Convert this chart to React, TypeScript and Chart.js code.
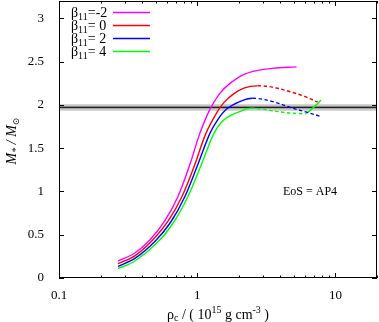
import React, { useEffect, useRef } from "react";
import { Chart, registerables } from "chart.js";

Chart.register(...registerables);

// ---- data (rho_c in 1e15 g/cm^3, M in solar masses) ----
const rhoA = [0.267, 0.354, 0.454, 0.582, 0.723, 0.883, 1.042, 1.231, 1.453, 1.717, 2.13, 2.69, 3.51, 5.23];
const massA = [0.197, 0.289, 0.439, 0.659, 0.936, 1.306, 1.665, 1.942, 2.13, 2.245, 2.345, 2.395, 2.422, 2.439];

const rhoB = [0.267, 0.354, 0.477, 0.617, 0.773, 0.959, 1.152, 1.383, 1.553, 1.834, 2.203, 2.734, 3.51, 4.655, 5.973, 7.45];
const massB = [0.165, 0.256, 0.439, 0.659, 0.936, 1.306, 1.665, 1.908, 2.023, 2.127, 2.197, 2.22, 2.205, 2.154, 2.098, 2.031];

const rhoC = [0.267, 0.354, 0.498, 0.644, 0.812, 1.008, 1.231, 1.406, 1.625, 2.03, 2.516, 3.51, 4.892, 6.277, 7.885];
const massC = [0.135, 0.226, 0.428, 0.647, 0.936, 1.306, 1.665, 1.827, 1.95, 2.038, 2.077, 2.038, 1.962, 1.913, 1.865];

const rhoD = [0.267, 0.354, 0.519, 0.677, 0.854, 1.069, 1.316, 1.503, 1.717, 2.03, 2.462, 3.51, 4.655, 5.5, 6.07, 6.86, 7.41, 7.885];
const massD = [0.108, 0.196, 0.416, 0.647, 0.936, 1.306, 1.665, 1.803, 1.873, 1.923, 1.962, 1.931, 1.906, 1.901, 1.898, 1.962, 2.012, 2.058];

const betaLabels = ["-2", " 0", " 2", " 4"];
const seriesColors = ["#ff00ff", "#ff0000", "#0000ff", "#00ff00"];

const xTickValues = [0.1, 1, 10];
const xTickLabels = ["0.1", "1", "10"];
const xMinorValues = [0.2, 0.3, 0.4, 0.5, 0.6, 0.7, 0.8, 0.9, 2, 3, 4, 5, 6, 7, 8, 9, 20];
const yTickValues = [0, 0.5, 1, 1.5, 2, 2.5, 3];
const yTickLabels = ["0", "0.5", "1", "1.5", "2", "2.5", "3"];

const bandLow = 1.93;
const bandHigh = 2.01;
const bandInnerLow = 1.95;
const bandInnerHigh = 1.99;
const bandMid = 1.97;

const eosText = "EoS = AP4";

const SERIF = "'Liberation Serif', 'DejaVu Serif', serif";

function drawPieces(ctx: CanvasRenderingContext2D, pieces: { t: string; size: number; dy: number; italic?: boolean }[], x: number, y: number, align: "left" | "center") {
  let total = 0;
  for (const p of pieces) {
    ctx.font = `${p.italic ? "italic " : ""}${p.size}px ${SERIF}`;
    total += ctx.measureText(p.t).width;
  }
  let cx = align === "center" ? x - total / 2 : x;
  ctx.textAlign = "left";
  ctx.textBaseline = "alphabetic";
  for (const p of pieces) {
    ctx.font = `${p.italic ? "italic " : ""}${p.size}px ${SERIF}`;
    ctx.fillText(p.t, cx, y + p.dy);
    cx += ctx.measureText(p.t).width;
  }
}

const decoPlugin = {
  id: "deco",
  beforeDatasetsDraw(chart: any) {
    const { ctx, chartArea, scales } = chart;
    const { left, right, top, bottom } = chartArea;
    const y = scales.y;
    ctx.save();
    ctx.beginPath();
    ctx.rect(left, top, right - left, bottom - top);
    ctx.clip();
    const yH = y.getPixelForValue(bandHigh);
    const yL = y.getPixelForValue(bandLow);
    ctx.fillStyle = "#d4d4d4";
    ctx.fillRect(left, yH, right - left, yL - yH);
    const yiH = y.getPixelForValue(bandInnerHigh);
    const yiL = y.getPixelForValue(bandInnerLow);
    ctx.fillStyle = "#a8a8a8";
    ctx.fillRect(left, yiH, right - left, yiL - yiH);
    const ym = y.getPixelForValue(bandMid);
    ctx.strokeStyle = "#222";
    ctx.lineWidth = 1.2;
    ctx.beginPath();
    ctx.moveTo(left, ym);
    ctx.lineTo(right, ym);
    ctx.stroke();
    ctx.restore();
  },
  afterDatasetsDraw(chart: any) {
    const { ctx, chartArea, scales } = chart;
    const { left, right, top, bottom } = chartArea;
    const x = scales.x;
    const y = scales.y;
    ctx.save();
    ctx.strokeStyle = "#000";
    ctx.lineWidth = 1;
    ctx.beginPath();
    for (const v of yTickValues) {
      const py = Math.round(y.getPixelForValue(v)) + 0.5;
      ctx.moveTo(left, py);
      ctx.lineTo(left + 5, py);
      ctx.moveTo(right, py);
      ctx.lineTo(right - 5, py);
    }
    for (const v of xTickValues) {
      const px = Math.round(x.getPixelForValue(v)) + 0.5;
      ctx.moveTo(px, bottom);
      ctx.lineTo(px, bottom - 5);
      ctx.moveTo(px, top);
      ctx.lineTo(px, top + 5);
    }
    for (const v of xMinorValues) {
      const px = Math.round(x.getPixelForValue(v)) + 0.5;
      ctx.moveTo(px, bottom);
      ctx.lineTo(px, bottom - 2.5);
      ctx.moveTo(px, top);
      ctx.lineTo(px, top + 2.5);
    }
    ctx.stroke();
    ctx.strokeRect(Math.round(left) + 0.5, Math.round(top) + 0.5, Math.round(right - left) - 1, Math.round(bottom - top) - 1);

    const legendX = left + 12;
    const lineX0 = left + 54;
    const lineX1 = left + 91;
    betaLabels.forEach((lab, i) => {
      const ry = top + 11.5 + i * 13;
      ctx.fillStyle = "#000";
      drawPieces(
        ctx,
        [
          { t: "β", size: 14, dy: 0 },
          { t: "11", size: 10, dy: 3 },
          { t: "=" + lab, size: 14, dy: 0 },
        ],
        legendX,
        ry + 4,
        "left"
      );
      ctx.strokeStyle = seriesColors[i];
      ctx.lineWidth = 1.5;
      ctx.beginPath();
      ctx.moveTo(lineX0, ry);
      ctx.lineTo(lineX1, ry);
      ctx.stroke();
    });

    ctx.fillStyle = "#000";
    ctx.font = `12px ${SERIF}`;
    ctx.textAlign = "center";
    ctx.textBaseline = "middle";
    ctx.fillText(eosText, 310, y.getPixelForValue(1.0));

    drawPieces(
      ctx,
      [
        { t: "ρ", size: 14, dy: 0 },
        { t: "c", size: 10, dy: 2 },
        { t: " / ( 10", size: 14, dy: 0 },
        { t: "15", size: 10, dy: -6 },
        { t: " g cm", size: 14, dy: 0 },
        { t: "-3", size: 10, dy: -6 },
        { t: " )", size: 14, dy: 0 },
      ],
      (left + right) / 2,
      318.5,
      "center"
    );

    ctx.save();
    ctx.translate(16, 141);
    ctx.rotate(-Math.PI / 2);
    drawPieces(
      ctx,
      [
        { t: "M", size: 14, dy: 0, italic: true },
        { t: "*", size: 10, dy: 3, italic: true },
        { t: " / ", size: 14, dy: 0, italic: true },
        { t: "M", size: 14, dy: 0, italic: true },
        { t: "⊙", size: 9, dy: 3 },
      ],
      0,
      0,
      "center"
    );
    ctx.restore();
    ctx.restore();
  },
};

function makeSeries(rho: number[], mass: number[], color: string, label: string) {
  return {
    label,
    data: rho.map((r, i) => ({ x: r, y: mass[i] })),
    borderColor: color,
    backgroundColor: color,
    borderWidth: 1.4,
    pointRadius: 0,
    fill: false,
    tension: 0.35,
    segment: {
      borderDash: (ctx: any) => (ctx.p1.parsed.y < ctx.p0.parsed.y ? [3.5, 2.5] : undefined),
    },
  };
}

export default function App() {
  const canvasRef = useRef<HTMLCanvasElement | null>(null);
  useEffect(() => {
    if (!canvasRef.current) return;
    const chart = new Chart(canvasRef.current, {
      type: "line",
      data: {
        datasets: [
          makeSeries(rhoA, massA, seriesColors[0], "β11=-2"),
          makeSeries(rhoB, massB, seriesColors[1], "β11=0"),
          makeSeries(rhoC, massC, seriesColors[2], "β11=2"),
          makeSeries(rhoD, massD, seriesColors[3], "β11=4"),
        ],
      },
      options: {
        animation: false,
        responsive: false,
        devicePixelRatio: 1,
        layout: { padding: { left: 0, top: 1, right: 2, bottom: 0 } },
        plugins: { legend: { display: false }, tooltip: { enabled: false } },
        scales: {
          x: {
            type: "logarithmic",
            min: 0.1,
            max: 20,
            grid: { display: false },
            border: { display: false },
            afterBuildTicks: (s: any) => {
              s.ticks = xTickValues.map((v) => ({ value: v }));
            },
            afterFit: (s: any) => {
              s.height = 44;
              s.paddingLeft = 0;
              s.paddingRight = 0;
            },
            ticks: {
              autoSkip: false,
              maxRotation: 0,
              padding: 2,
              color: "#000",
              font: { family: SERIF, size: 13 },
              callback: (v: any) => {
                const i = xTickValues.indexOf(Number(v));
                return i >= 0 ? xTickLabels[i] : "";
              },
            },
          },
          y: {
            type: "linear",
            min: 0,
            max: 3.2,
            grid: { display: false },
            border: { display: false },
            afterBuildTicks: (s: any) => {
              s.ticks = yTickValues.map((v) => ({ value: v }));
            },
            afterFit: (s: any) => {
              s.width = 59;
              s.paddingTop = 0;
              s.paddingBottom = 0;
            },
            ticks: {
              autoSkip: false,
              padding: 7,
              color: "#000",
              font: { family: SERIF, size: 13 },
              callback: (v: any) => {
                const i = yTickValues.indexOf(Number(v));
                return i >= 0 ? yTickLabels[i] : "";
              },
            },
          },
        },
      },
      plugins: [decoPlugin],
    });
    return () => chart.destroy();
  }, []);
  return (
    <div style={{ position: "fixed", left: 0, top: 0, width: 379, height: 322, background: "#fff" }}>
      <canvas ref={canvasRef} width={379} height={322} style={{ width: 379, height: 322, display: "block" }} />
    </div>
  );
}
